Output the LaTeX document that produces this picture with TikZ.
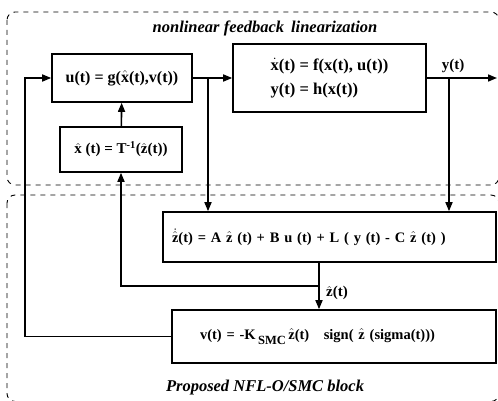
\documentclass[tikz,border=0pt]{standalone}
\usepackage{fontspec}
\setmainfont{Liberation Serif}
\usetikzlibrary{arrows.meta,positioning}
\newcommand{\est}[1]{\ensuremath{\hat{\mbox{#1}}}}
\newcommand{\estdot}[1]{\ensuremath{\dot{\hat{\mbox{#1}}}}}
\newcommand{\tdot}[1]{\ensuremath{\dot{\mbox{#1}}}}

\begin{document}
\begin{tikzpicture}[x=1pt,y=-1pt,
        block/.style={draw,line width=1.6pt,inner sep=0pt,font=\fontsize{15}{24}\selectfont\bfseries},
        lbl/.style={inner sep=1pt,font=\fontsize{15}{17}\selectfont\bfseries},
        note/.style={inner sep=1pt,font=\fontsize{16.5}{18}\selectfont\bfseries\itshape},
        sig/.style={line width=1.6pt,-{Triangle[length=9pt,width=7pt]}},
        region/.style={line width=0.9pt,dash pattern=on 5pt off 5pt,rounded corners=8pt}]
        \useasboundingbox (0,0) rectangle (498,401);
        \clip (0,0) rectangle (498,401);

        % the two dashed regions
        \draw[region] (7,12) rectangle (499,185);
        \draw[region] (7,195) rectangle (499,401.5);
        \node[note] (toplab) at (265,28) {nonlinear feedback\, linearization};
        \node[note] (botlab) at (265,388) {Proposed NFL-O/SMC block};

        % feedback linearization blocks
        \node[block,minimum width=140pt,minimum height=48pt,font=\fontsize{16}{24}\selectfont\bfseries] (u) at (122,78)
            {u(t) = g(\est{x}(t),v(t))};
        \node[block,minimum width=122pt,minimum height=45pt] (xh) at (121,149.5) {\est{x} (t) = T\textsuperscript{-1}(\est{z}(t))};
        \node[block,minimum width=193pt,minimum height=68pt,align=left,font=\fontsize{16.5}{24}\selectfont\bfseries] (plant) at (329.5,78)
            {\tdot{x}(t) = f(x(t), u(t))\\ y(t) = h(x(t))};

        % observer and sliding mode blocks
        \node[block,minimum width=333pt,minimum height=50pt,text width=315pt,align=left,font=\fontsize{14.5}{24}\selectfont\bfseries] (obs) at (329.5,237)
            {\estdot{z}(t) = A \est{z} (t) + B u (t) + L ( y (t) - C \est{z} (t) )};
        \node[block,minimum width=324pt,minimum height=53pt,text width=268pt,align=left,font=\fontsize{14.5}{24}\selectfont\bfseries] (v) at (334,336.5)
            {v(t) = -K\,\raisebox{-5pt}{\fontsize{12.5}{12}\selectfont SMC}\,\est{z}(t)\quad sign( \est{z} (sigma(t)))};

        \node[lbl] (ylab) at (453,66) {y(t)};
        \node[lbl] (zlab) at (337,293) {\est{z}(t)};

        % junction points
        \coordinate (fb) at (25,0);
        \coordinate (j1) at (208,0);
        \coordinate (j2) at (449,0);
        \coordinate (j3) at (319,0);
        \coordinate (br) at (0,286);
        \coordinate (yout) at (497,78);

        \draw[sig] (u) -- (plant);
        \draw[sig] (plant) -- (yout);
        \draw[sig] (u.east -| j1) -- (obs.north -| j1);
        \draw[sig] (plant.east -| j2) -- (obs.north -| j2);
        \draw[sig] (obs.south -| j3) -- (v.north -| j3);
        \draw[sig] (j3 |- br) -| (xh.south);
        \draw[sig] (xh) -- (u);
        \draw[sig] (v.west) -- (v.west -| fb) |- (u.west);
    \end{tikzpicture}
\end{document}
